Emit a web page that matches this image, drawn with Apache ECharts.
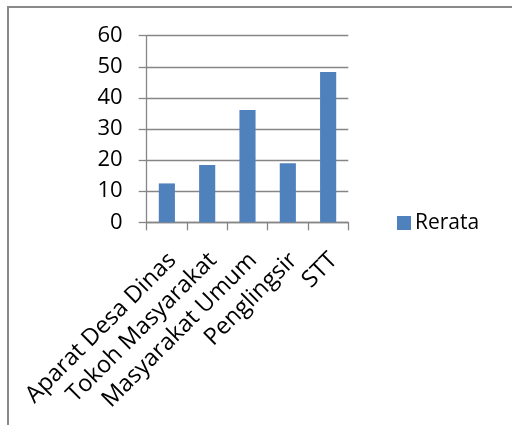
<!DOCTYPE html>
<html>
<head>
<meta charset="utf-8">
<script src="https://cdn.jsdelivr.net/npm/echarts@6/dist/echarts.min.js"></script>
<style>html,body{margin:0;padding:0;background:#fff;}#c{width:512px;height:425px;}</style>
</head>
<body>
<div id="c"></div>
<script>
const categories = ['Aparat Desa Dinas', 'Tokoh Masyarakat', 'Masyarakat Umum', 'Penglingsir', 'STT'];
const rerata = [12.5, 18.4, 36.1, 19.0, 48.3];
const seriesName = 'Rerata';
const yMin = 0, yMax = 60, yInterval = 10;

const chart = echarts.init(document.getElementById('c'), null, {renderer: 'canvas'});
const font = 'Open Sans';
chart.setOption({
  animation: false,
  backgroundColor: '#ffffff',
  graphic: [{
    type: 'rect',
    shape: {x: 8, y: 7, width: 700, height: 600},
    style: {fill: 'none', stroke: '#8a8a8a', lineWidth: 2},
    silent: true
  }],
  grid: {left: 146.7, right: 163.7, top: 35.7, bottom: 202.7, containLabel: false},
  legend: {
    data: [seriesName],
    left: 392, top: 207, orient: 'vertical',
    itemWidth: 14, itemHeight: 14,
    icon: 'rect',
    textStyle: {fontFamily: font, fontSize: 21, color: '#000', lineHeight: 22, padding: [0,0,0,-1]}
  },
  xAxis: {
    type: 'category', data: categories,
    axisLine: {lineStyle: {color: '#868686', width: 1.3}},
    axisTick: {show: true, length: 8, lineStyle: {color: '#868686', width: 1.3}},
    axisLabel: {rotate: 45, interval: 0, margin: 40, padding: [0, -8, 0, 0], fontFamily: font, fontSize: 23.5, color: '#000'}
  },
  yAxis: {
    type: 'value', min: yMin, max: yMax, interval: yInterval,
    axisLine: {show: true, lineStyle: {color: '#868686', width: 1.3}},
    axisTick: {show: true, length: 8, lineStyle: {color: '#868686', width: 1.3}},
    splitLine: {show: true, lineStyle: {color: '#868686', width: 1.3}},
    axisLabel: {margin: 24, fontFamily: font, fontSize: 22, color: '#000'}
  },
  series: [{
    name: seriesName, type: 'bar', data: rerata,
    barCategoryGap: '60%',
    itemStyle: {color: '#4F81BD'}
  }]
});
</script>
</body>
</html>
